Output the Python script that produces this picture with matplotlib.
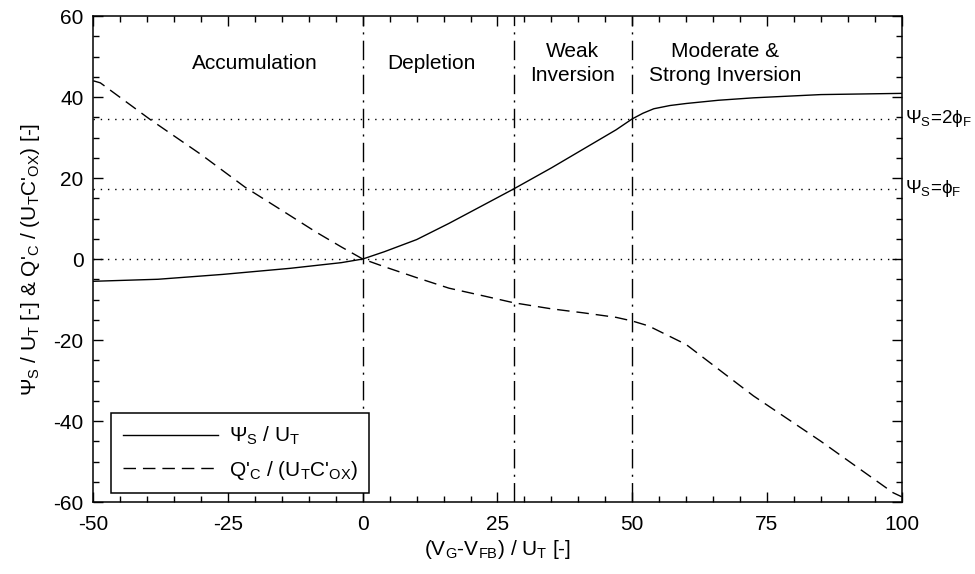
import matplotlib
matplotlib.use('Agg')
import matplotlib.pyplot as plt
from matplotlib.ticker import MultipleLocator
import matplotlib.transforms as mtrans

plt.rcParams['font.family'] = ['Liberation Sans', 'DejaVu Sans']
plt.rcParams['mathtext.fontset'] = 'custom'
plt.rcParams['mathtext.rm'] = 'Liberation Sans'
plt.rcParams['mathtext.it'] = 'Liberation Sans:italic'
plt.rcParams['axes.unicode_minus'] = False
plt.rcParams['font.size'] = 15

# surface potential vs gate voltage (normalised)
x_psi = [-50, -38, -26, -13.5, -4, 0, 4, 10, 16, 22.5, 28, 35, 41, 47, 50, 52, 54, 57, 60, 66, 72.5, 85, 100]
y_psi = [-5.5, -5.0, -3.8, -2.3, -0.9, 0, 1.8, 4.8, 8.8, 13.4, 17.3, 22.5, 27.2, 31.9, 34.6, 36.0, 37.1, 37.9, 38.4, 39.2, 39.8, 40.6, 40.9]

# normalised channel charge
x_q = [-50, -48.7, -39.5, -30, -21.8, -15, -8.6, -4, 0, 4, 10, 16, 22.4, 28, 35, 41, 47, 50, 53, 60, 66, 72.5, 85, 98.4, 100]
y_q = [44, 43.5, 34.5, 25.8, 17.7, 12, 6.6, 3, 0, -1.9, -4.6, -7.2, -9.1, -10.8, -12.3, -13.3, -14.4, -15.3, -16.5, -21.1, -27.2, -33.8, -45, -57.7, -58.7]

phi_f = 17.3          # Psi_S = phi_F
region_bounds = [0, 28, 50]   # flat band, weak inversion onset, strong inversion onset

region_names = ['Accumulation', 'Depletion', 'Weak\nInversion', 'Moderate &\nStrong Inversion']
region_x = [-20, 12.7, 39, 67.3]
region_y = 48.3

fig = plt.figure(figsize=(9.75, 5.74), dpi=100)
ax = fig.add_axes([0.0957, 0.1254, 0.8291, 0.8467])

# reference levels
for lvl in [0, phi_f, 2 * phi_f]:
    ax.axhline(lvl, color='black', lw=1.0, linestyle=(0, (1, 4.2)))
for xb in region_bounds:
    ax.axvline(xb, color='black', lw=1.0, linestyle=(0, (14, 4.5, 1.5, 4.5)))

ax.plot(x_psi, y_psi, color='black', lw=1.0, label=r'Ψ$_{\rm S}$ / U$_{\rm T}$')
ax.plot(x_q, y_q, color='black', lw=1.0, linestyle=(0, (9, 5)),
        label=r"Q'$_{\rm C}$ / (U$_{\rm T}$C'$_{\rm OX}$)")

for name, rx in zip(region_names, region_x):
    ax.text(rx, region_y, name, ha='center', va='center', linespacing=1.3)

# labels to the right of the frame
tr = mtrans.blended_transform_factory(ax.transAxes, ax.transData)
ax.text(1.004, 2 * phi_f, r'Ψ$_{\rm S}$=2ϕ$_{\rm F}$', transform=tr, ha='left', va='center', fontsize=13.5)
ax.text(1.004, phi_f, r'Ψ$_{\rm S}$=ϕ$_{\rm F}$', transform=tr, ha='left', va='center', fontsize=13.5)

ax.set_xlim(-50, 100)
ax.set_ylim(-60, 60)
ax.xaxis.set_major_locator(MultipleLocator(25))
ax.xaxis.set_minor_locator(MultipleLocator(5))
ax.yaxis.set_major_locator(MultipleLocator(20))
ax.yaxis.set_minor_locator(MultipleLocator(5))
ax.tick_params(which='both', direction='in', top=True, right=True, width=1.0)
ax.tick_params(which='major', length=7)
ax.tick_params(axis='x', which='major', pad=9)
ax.tick_params(axis='y', which='major', pad=7)
ax.tick_params(which='minor', length=4)
for s in ax.spines.values():
    s.set_linewidth(1.1)

ax.set_xlabel(r'(V$_{\rm G}$-V$_{\rm FB}$) / U$_{\rm T}$ [-]', labelpad=3)
ax.set_ylabel(r"Ψ$_{\rm S}$ / U$_{\rm T}$ [-] & Q'$_{\rm C}$ / (U$_{\rm T}$C'$_{\rm OX}$) [-]", labelpad=8)

leg = ax.legend(loc='lower left', bbox_to_anchor=(0.022, 0.0185), borderaxespad=0,
                fancybox=False, edgecolor='black', framealpha=1, handlelength=4.6,
                handletextpad=0.5, borderpad=0.55, labelspacing=0.55)
leg.get_frame().set_linewidth(1.1)

fig.savefig('out.png', dpi=100)
